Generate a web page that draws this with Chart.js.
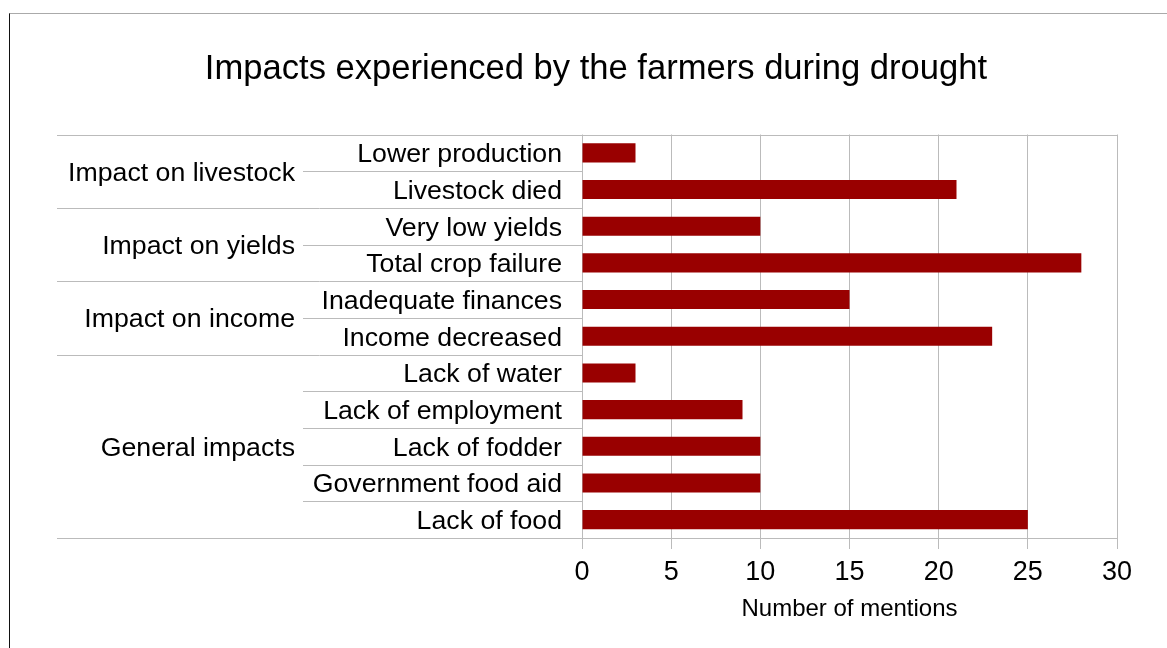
<!DOCTYPE html>
<html>
<head>
<meta charset="utf-8">
<script src="https://cdn.jsdelivr.net/npm/chart.js"></script>
<style>
  body { margin: 0; background: #fff; }
  #wrap { position: relative; width: 1167px; height: 648px; }
  #frame { position: absolute; left: 9px; top: 13px; right: 0; bottom: 0;
           border-left: 1px solid #111; border-top: 1px solid #aaa; pointer-events: none; }
</style>
</head>
<body>
<div id="wrap">
  <canvas id="chart" width="1167" height="648"></canvas>
  <div id="frame"></div>
</div>
<script>
const groups = ['Impact on livestock', 'Impact on yields', 'Impact on income', 'General impacts'];
const groupSizes = [2, 2, 2, 5];
const categories = ['Lower production', 'Livestock died', 'Very low yields', 'Total crop failure',
	'Inadequate finances', 'Income decreased', 'Lack of water', 'Lack of employment',
	'Lack of fodder', 'Government food aid', 'Lack of food'];
const mentions = [3, 21, 10, 28, 15, 23, 3, 9, 10, 10, 25];
const xMin = 0, xMax = 30, xStep = 5;

const FONT = "'Liberation Sans', Arial, sans-serif";
const LINE = '#bbbbbb';

// group labels and the separator lines left of the plot
const groupAxis = {
	id: 'groupAxis',
	afterDraw(chart) {
		const ctx = chart.ctx;
		const y = chart.scales.y;
		const area = chart.chartArea;
		const half = (y.getPixelForValue(1) - y.getPixelForValue(0)) / 2;
		const outerLeft = 57, innerLeft = 303;

		ctx.save();
		ctx.strokeStyle = LINE;
		ctx.lineWidth = 1;

		// boundaries between rows
		let groupEnds = [0];
		groupSizes.reduce((acc, n) => { groupEnds.push(acc + n); return acc + n; }, 0);
		for (let i = 0; i <= categories.length; i++) {
			const py = Math.round(y.getPixelForValue(i) - half) + 0.5;
			const isGroup = groupEnds.includes(i);
			ctx.beginPath();
			ctx.moveTo(isGroup ? outerLeft : innerLeft, py);
			ctx.lineTo((i === 0 || i === categories.length) ? area.right : area.left, py);
			ctx.stroke();
		}

		// group labels
		ctx.fillStyle = '#000';
		ctx.font = '26.7px ' + FONT;
		ctx.textAlign = 'right';
		ctx.textBaseline = 'middle';
		let start = 0;
		groups.forEach((g, gi) => {
			const end = start + groupSizes[gi] - 1;
			const cy = (y.getPixelForValue(start) + y.getPixelForValue(end)) / 2;
			ctx.fillText(g, 295, cy + 2);
			start += groupSizes[gi];
		});
		ctx.restore();
	}
};

const ctx = document.getElementById('chart').getContext('2d');
const myChart = new Chart(ctx, {
	type: 'bar',
	data: {
		labels: categories,
		datasets: [{
			label: 'Number of mentions',
			data: mentions,
			backgroundColor: '#990000',
			borderWidth: 0,
			barPercentage: 0.52,
			categoryPercentage: 1.0
		}]
	},
	options: {
		indexAxis: 'y',
		responsive: false,
		animation: false,
		layout: { padding: { left: 75, right: 50, top: 0, bottom: 23.8 } },
		plugins: {
			legend: { display: false },
			tooltip: { enabled: false },
			title: {
				display: true,
				text: 'Impacts experienced by the farmers during drought',
				color: '#000',
				font: { family: FONT, size: 34.6, weight: 'normal' },
				padding: { top: 49, bottom: 44 }
			}
		},
		scales: {
			x: {
				min: xMin,
				max: xMax,
				ticks: { stepSize: xStep, color: '#000', padding: 7, font: { family: FONT, size: 27 } },
				grid: { color: LINE, tickLength: 11 },
				border: { display: false },
				title: {
					display: true,
					text: 'Number of mentions',
					color: '#000',
					font: { family: FONT, size: 24 },
					padding: { top: 0, bottom: 0 }
				}
			},
			y: {
				ticks: { color: '#000', padding: 20, labelOffset: 2, font: { family: FONT, size: 26.7 } },
				grid: { display: false, drawTicks: false },
				border: { display: false },
				afterFit(scale) { scale.width = 507; }
			}
		}
	},
	plugins: [groupAxis]
});
</script>
</body>
</html>
